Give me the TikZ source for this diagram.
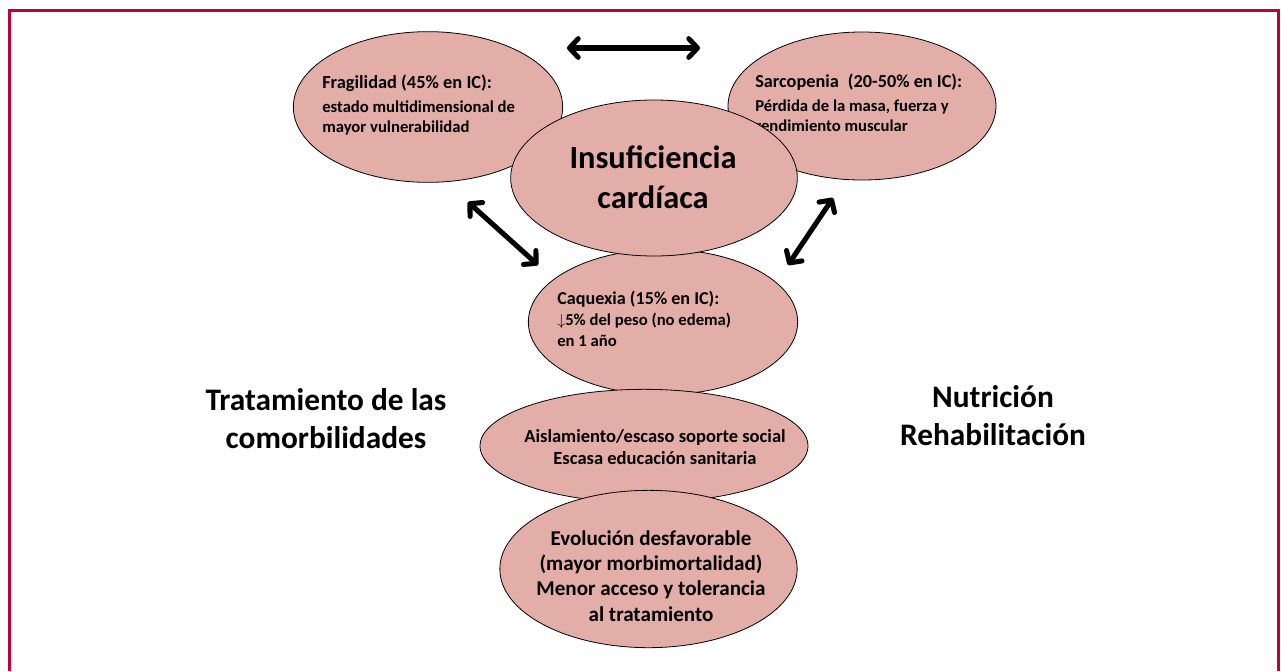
\documentclass[tikz,border=0pt]{standalone}
\usepackage{fontspec}
\setmainfont{Carlito}
\usetikzlibrary{shapes.geometric,arrows.meta}
\definecolor{blobfill}{RGB}{228,174,168}
\definecolor{framered}{RGB}{192,0,58}
\begin{document}
\begin{tikzpicture}[x=0.75pt,y=-0.75pt]

      \tikzset{blob/.style={draw, ellipse, fill=blobfill, line width=0.6pt, inner sep=0pt},
               small/.style={font=\bfseries\fontsize{12.5}{14.3}\selectfont, align=left, anchor=base west, inner sep=0pt},
               mid/.style={font=\bfseries\fontsize{13.9}{16.5}\selectfont, align=center, anchor=base, inner sep=0pt},
               big/.style={font=\bfseries\fontsize{15.8}{19}\selectfont, align=center, anchor=base, inner sep=0pt},
               huge/.style={font=\bfseries\fontsize{23.5}{28}\selectfont, align=center, anchor=base, inner sep=0pt},
               both/.style={line width=3.8pt, {Straight Barb[round,length=6.5pt,width=14pt]}-{Straight Barb[round,length=6.5pt,width=14pt]}}}
      \useasboundingbox (0,0) rectangle (1281,671);
%% Frame
      	\draw[framered, line width=2.3pt] (9.5,671) -- (9.5,10.5) -- (1278.5,10.5) -- (1278.5,671);
%% Ellipses
      	\node[blob, minimum width=202pt, minimum height=113pt] (frag) at (428,107) {};
      	\node[small] (fragtxt) at (322,132) {{\fontsize{13.8}{14.3}\selectfont Fragilidad (45\% en IC):}\\[3.7pt]estado multidimensional de\\mayor vulnerabilidad};
      	\node[blob, minimum width=201pt, minimum height=111pt] (sarc) at (862,106) {};
      	\node[small] (sarctxt) at (755,131) {{\fontsize{13.7}{14.3}\selectfont Sarcopenia\enspace(20-50\% en IC):}\\[3.7pt]Pérdida de la masa, fuerza y\\rendimiento muscular};
      	\node[blob, minimum width=202pt, minimum height=109pt] (caq) at (663,322) {};
      	\node[small] (caqtxt) at (557,346) {{\fontsize{13.6}{16}\selectfont Caquexia (15\% en IC):}\\[1.4pt]$\downarrow$5\% del peso (no edema)\\[1.4pt]en 1 año};
      	\node[blob, minimum width=215pt, minimum height=117pt] (ic) at (654,178) {};
      	\node[huge, font=\bfseries\fontsize{24.3}{30}\selectfont] (ictxt) at (653,208) {Insuficiencia\\cardíaca};
      	\node[blob, minimum width=246pt, minimum height=85pt] (aisl) at (644,446) {};
      	\node[mid] (aisltxt) at (655,464) {Aislamiento/escaso soporte social\\Escasa educación sanitaria};
      	\node[blob, minimum width=223pt, minimum height=118pt] (evol) at (648.5,569) {};
      	\node[big] (evoltxt) at (651,621) {Evolución desfavorable\\(mayor morbimortalidad)\\Menor acceso y tolerancia\\al tratamiento};
%% Side texts
      	\node[huge] (trat) at (326,448) {Tratamiento de las\\comorbilidades};
      	\node[huge] (nutr) at (993,445) {Nutrición\\Rehabilitación};
%% Arrows
      	\coordinate (fs1) at (567,48);
      	\coordinate (fs2) at (700,48);
      	\coordinate (fc1) at (468,202);
      	\coordinate (fc2) at (538,265);
      	\coordinate (sc1) at (833,198);
      	\coordinate (sc2) at (788,265);
		\draw[both] (fs1) -- (fs2);
		\draw[both] (fc1) -- (fc2);
		\draw[both] (sc1) -- (sc2);

	\end{tikzpicture}
\end{document}
